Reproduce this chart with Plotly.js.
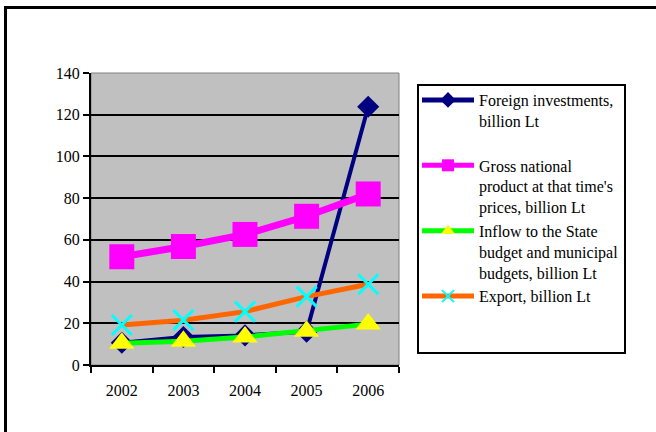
<!DOCTYPE html>
<html>
<head>
<meta charset="utf-8">
<script src="https://cdn.plot.ly/plotly-3.0.1.min.js"></script>
<style>
  html, body { margin: 0; padding: 0; background: #fff; }
  #chart { width: 656px; height: 432px; }
</style>
</head>
<body>
<div id="chart"></div>
<script>
// Years on the category axis
const years = ['2002', '2003', '2004', '2005', '2006'];

// Series values, billion Lt
const foreignInvestments = [10.7, 13.4, 14.2, 16.0, 123.8];
const grossNationalProduct = [51.9, 56.8, 62.6, 71.3, 82.0];
const budgetInflow = [10.4, 11.4, 13.4, 16.2, 19.6];
const exportValues = [19.2, 21.5, 25.6, 32.8, 38.7];

// Legend labels
const seriesNames = [
  'Foreign investments,<br>billion Lt<br> ',
  'Gross national<br>product at that time\'s<br>prices, billion Lt',
  'Inflow to the State<br>budget and municipal<br>budgets, billion Lt',
  'Export, billion Lt'
];

// Y axis ticks and inner grid levels
const yTicks = [0, 20, 40, 60, 80, 100, 120, 140];
const yGrid = [20, 40, 60, 80, 100, 120];

// Plot area in page pixels
const W = 656, H = 432;
const PL = 91, PR = 399, PT = 73, PB = 365;
const px = x => (x - PL) / (PR - PL);
const py = y => (PB - y) / (PB - PT);

const FONT = '"Liberation Serif", "Times New Roman", serif';

const traces = [
  {
    x: years, y: foreignInvestments, name: seriesNames[0],
    type: 'scatter', mode: 'lines+markers',
    line: { color: '#000080', width: 4 },
    marker: { symbol: 'diamond', size: 17, color: '#000080' }
  },
  {
    x: years, y: grossNationalProduct, name: seriesNames[1],
    type: 'scatter', mode: 'lines+markers',
    line: { color: '#FF00FF', width: 7 },
    marker: { symbol: 'square', size: 25, color: '#FF00FF' }
  },
  {
    x: years, y: budgetInflow, name: seriesNames[2],
    type: 'scatter', mode: 'lines+markers',
    line: { color: '#00FF00', width: 5 },
    marker: { symbol: 'triangle-up', size: 22, color: '#FFFF00' }
  },
  {
    x: years, y: exportValues, name: seriesNames[3],
    type: 'scatter', mode: 'lines+markers',
    line: { color: '#FF6600', width: 5 },
    marker: { symbol: 'x-thin', size: 20, color: '#00FFFF', line: { color: '#00FFFF', width: 3 } }
  },
  // overlay axis that only carries the black horizontal grid
  {
    x: years, y: [null, null, null, null, null], yaxis: 'y2',
    type: 'scatter', mode: 'lines', showlegend: false, hoverinfo: 'skip'
  }
];

const layout = {
  width: W, height: H,
  margin: { l: PL, r: W - PR, t: PT, b: H - PB, pad: 0 },
  paper_bgcolor: '#ffffff',
  plot_bgcolor: '#C0C0C0',
  font: { family: FONT, size: 16, color: '#000' },
  showlegend: true,
  hovermode: false,
  xaxis: {
    type: 'category',
    tickson: 'boundaries',
    range: [-0.5, 4.5],
    showgrid: false,
    showline: true, linecolor: '#000', linewidth: 2,
    ticks: 'outside', ticklen: 6, tickwidth: 2, tickcolor: '#000',
    ticklabelstandoff: 10,
    tickfont: { family: FONT, size: 16, color: '#000' },
    fixedrange: true
  },
  yaxis: {
    range: [0, 140],
    tickvals: yTicks,
    showgrid: false, zeroline: false,
    showline: true, linecolor: '#000', linewidth: 2,
    ticks: 'outside', ticklen: 6, tickwidth: 2, tickcolor: '#000',
    tickfont: { family: FONT, size: 16, color: '#000' },
    fixedrange: true
  },
  yaxis2: {
    overlaying: 'y', range: [0, 140],
    tickvals: yGrid, showticklabels: false, ticks: '',
    showgrid: true, gridcolor: '#000', gridwidth: 2,
    zeroline: false, showline: false, fixedrange: true
  },
  legend: {
    x: px(417), y: py(83), xanchor: 'left', yanchor: 'top',
    bgcolor: 'rgba(0,0,0,0)', borderwidth: 0,
    itemwidth: 52, valign: 'top', itemsizing: 'constant',
    font: { family: FONT, size: 16, color: '#000' },
    itemclick: false, itemdoubleclick: false
  },
  shapes: [
    // plot area outline
    { type: 'rect', xref: 'paper', yref: 'paper', x0: 0, x1: 1, y0: 0, y1: 1,
      line: { color: '#808080', width: 1 }, layer: 'below' },
    // legend frame
    { type: 'rect', xref: 'paper', yref: 'paper',
      x0: px(418), x1: px(625), y0: py(353), y1: py(85),
      line: { color: '#000', width: 2 } },
    // chart frame (left and top edges visible)
    { type: 'line', xref: 'paper', yref: 'paper',
      x0: px(5.5), x1: px(5.5), y0: py(7.5), y1: py(440),
      line: { color: '#000', width: 3 } },
    { type: 'line', xref: 'paper', yref: 'paper',
      x0: px(4), x1: px(660), y0: py(7.5), y1: py(7.5),
      line: { color: '#000', width: 3 } }
  ]
};

Plotly.newPlot('chart', traces, layout, { displayModeBar: false, staticPlot: true });
</script>
</body>
</html>
